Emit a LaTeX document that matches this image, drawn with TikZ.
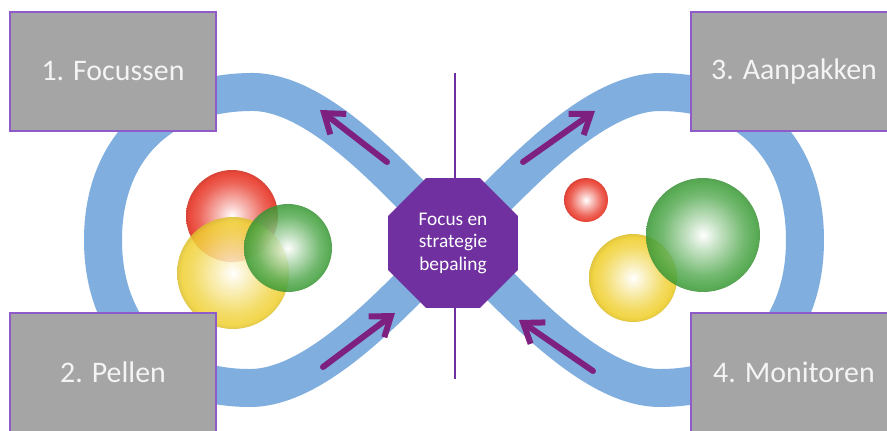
\documentclass[tikz,border=0pt]{standalone}
\usepackage{fontspec}
\setmainfont{Carlito}
\usetikzlibrary{arrows.meta}
\usetikzlibrary{shapes.geometric}
\definecolor{LoopBlue}{HTML}{80AFDF}
\definecolor{OctPurple}{HTML}{7030A0}
\definecolor{ArrowPurple}{HTML}{7E2080}
\definecolor{BoxGray}{HTML}{A5A5A5}
\definecolor{BoxLine}{HTML}{8E5BC9}
\definecolor{BoxText}{HTML}{F4F4F4}
\definecolor{BallRed}{HTML}{EA4A3C}
\definecolor{BallYellow}{HTML}{F0D030}
\definecolor{BallGreen}{HTML}{3E9F3A}
\newcommand{\MakeBall}[2]{%
  \pgfdeclareradialshading{#1}{\pgfpoint{0bp}{0bp}}{%
    color(0bp)=(white); color(7bp)=(#2!35!white);
    color(18bp)=(#2!85!white); color(23bp)=(#2);
    color(25bp)=(#2!92!black); color(50bp)=(#2!92!black)}}
\MakeBall{RedBall}{BallRed}
\MakeBall{YellowBall}{BallYellow}
\MakeBall{GreenBall}{BallGreen}

\begin{document}
\begin{tikzpicture}[x=0.02cm, y=-0.02cm,
  stagebox/.style={draw=BoxLine, fill=BoxGray, line width=0.6pt,
    minimum width=4.12cm, minimum height=2.38cm, inner sep=0pt,
    text=BoxText, font=\fontsize{17}{20}\selectfont},
  cyclearrow/.style={ArrowPurple, line width=0.12cm, line cap=round,
    -{Straight Barb[length=0.36cm,width=0.52cm]}}]
  \useasboundingbox (0,0) rectangle (887,430);
  \clip (0,0) rectangle (887,430);
  \fill[white] (0,0) rectangle (887,430);

  \coordinate (Cross) at (455,240);

  \draw[LoopBlue, line width=0.76cm, line join=round] (Cross)
    .. controls (400,185) and (320,90) .. (250,92)
    .. controls (160,93) and (103,150) .. (103,240)
    .. controls (103,330) and (160,388) .. (250,388)
    .. controls (320,388) and (400,295) .. (Cross)
    .. controls (510,185) and (590,92) .. (660,92)
    .. controls (750,92) and (805,150) .. (805,240)
    .. controls (805,330) and (750,388) .. (660,388)
    .. controls (590,388) and (510,295) .. (Cross) -- cycle;

  \coordinate (LineTop) at (455,73);
  \coordinate (LineBottom) at (455,379);
  \draw[OctPurple, line width=0.05cm] (LineTop) -- (LineBottom);

  \shade[shading=RedBall] (232,216) circle [radius=46];
  \shade[shading=YellowBall, opacity=0.85] (233,273) circle [radius=56];
  \shade[shading=GreenBall, opacity=0.85] (288,248) circle [radius=44];

  \shade[shading=RedBall] (586,200) circle [radius=22];
  \shade[shading=YellowBall, opacity=0.9] (633,278) circle [radius=44];
  \shade[shading=GreenBall, opacity=0.85] (703,235) circle [radius=57];

  \coordinate (FocusTail) at (387,162);
  \coordinate (FocusHead) at (320,110);
  \coordinate (AanpakTail) at (523,162);
  \coordinate (AanpakHead) at (595,111);
  \coordinate (PelTail) at (323,367);
  \coordinate (PelHead) at (395,313);
  \coordinate (MonTail) at (593,371);
  \coordinate (MonHead) at (519,320);
  \draw[cyclearrow] (FocusTail) -- (FocusHead);
  \draw[cyclearrow] (AanpakTail) -- (AanpakHead);
  \draw[cyclearrow] (PelTail) -- (PelHead);
  \draw[cyclearrow] (MonTail) -- (MonHead);

  \node[regular polygon, regular polygon sides=8, fill=OctPurple,
    minimum size=2.81cm, inner sep=0pt, text=white, align=center,
    font=\fontsize{11}{12.8}\selectfont] (Strategie) at (453,243)
    {Focus en\\strategie\\bepaling};

  \node[stagebox] (Focussen) at (113,71.5) {1. Focussen};
  \node[stagebox] (Pellen) at (113,372.5) {2. Pellen};
  \node[stagebox] (Aanpakken) at (794,71.5) {3. Aanpakken};
  \node[stagebox] (Monitoren) at (794,372.5) {4. Monitoren};
\end{tikzpicture}
\end{document}
